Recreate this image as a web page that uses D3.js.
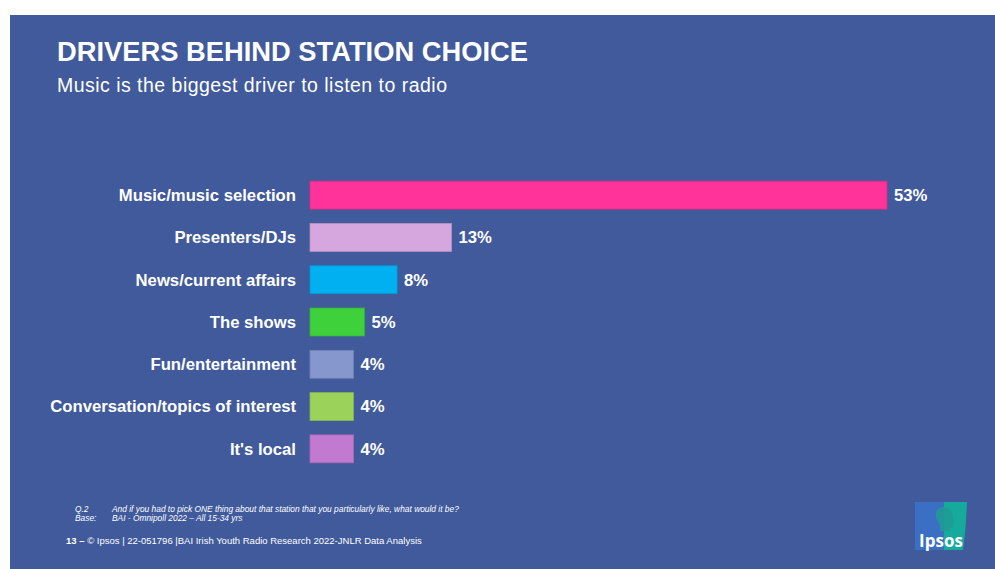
<!DOCTYPE html>
<html>
<head>
<meta charset="utf-8">
<script src="https://cdn.jsdelivr.net/npm/d3@7"></script>
<style>
  html, body { margin: 0; padding: 0; background: #ffffff; }
  svg { display: block; font-family: "Liberation Sans", Arial, sans-serif; }
</style>
</head>
<body>
<svg id="chart" width="995" height="569"></svg>
<script>
// Station-choice drivers (% of 15-34s)
const categories = [
  "Music/music selection",
  "Presenters/DJs",
  "News/current affairs",
  "The shows",
  "Fun/entertainment",
  "Conversation/topics of interest",
  "It's local"
];
const values = [53, 13, 8, 5, 4, 4, 4];
const barColors = ["#ff3399", "#d6a6de", "#00b0f0", "#3fd13c", "#8597cd", "#9bd25a", "#c27ad1"];

const svg = d3.select("#chart");

// slide background
svg.append("rect")
  .attr("x", 10).attr("y", 15)
  .attr("width", 985).attr("height", 554)
  .attr("fill", "#405a9b");

// heading
svg.append("text")
  .attr("x", 57).attr("y", 61)
  .attr("fill", "#ffffff")
  .attr("font-size", 27.5)
  .attr("font-weight", "bold")
  .attr("textLength", 471)
  .attr("lengthAdjust", "spacingAndGlyphs")
  .text("DRIVERS BEHIND STATION CHOICE");

svg.append("text")
  .attr("x", 57).attr("y", 92)
  .attr("fill", "#ffffff")
  .attr("font-size", 19.5)
  .attr("textLength", 390)
  .attr("lengthAdjust", "spacing")
  .text("Music is the biggest driver to listen to radio");

// bars
const x = d3.scaleLinear().domain([0, 53]).range([310, 887]);
const y = d3.scaleBand().domain(categories).range([174, 470]).paddingInner(0.34).paddingOuter(0.17);

const rows = svg.append("g").selectAll("g")
  .data(categories.map((c, i) => ({ c, v: values[i], col: barColors[i] })))
  .join("g");

rows.append("rect")
  .attr("x", x(0))
  .attr("y", d => y(d.c))
  .attr("width", d => x(d.v) - x(0))
  .attr("height", y.bandwidth())
  .attr("fill", d => d.col)
  .attr("stroke", d => d3.color(d.col).darker(0.4))
  .attr("stroke-width", 0.8);

rows.append("text")
  .attr("x", 296)
  .attr("y", d => y(d.c) + y.bandwidth() / 2)
  .attr("dy", "0.35em")
  .attr("text-anchor", "end")
  .attr("fill", "#ffffff")
  .attr("font-size", 16.7)
  .attr("font-weight", "bold")
  .text(d => d.c);

rows.append("text")
  .attr("x", d => x(d.v) + 7)
  .attr("y", d => y(d.c) + y.bandwidth() / 2)
  .attr("dy", "0.35em")
  .attr("fill", "#ffffff")
  .attr("font-size", 16.7)
  .attr("font-weight", "bold")
  .text(d => d.v + "%");

// question / base notes
const notes = svg.append("g")
  .attr("fill", "#ffffff")
  .attr("font-size", 8.4)
  .attr("font-style", "italic");
notes.append("text").attr("x", 75).attr("y", 512).text("Q.2");
notes.append("text").attr("x", 112).attr("y", 512)
  .text("And if you had to pick ONE thing about that station that you particularly like, what would it be?");
notes.append("text").attr("x", 75).attr("y", 521).text("Base:");
notes.append("text").attr("x", 112).attr("y", 521).text("BAI - Omnipoll 2022 \u2013 All 15-34 yrs");

// footer
const foot = svg.append("text")
  .attr("x", 66).attr("y", 544)
  .attr("fill", "#ffffff")
  .attr("font-size", 9.5);
foot.append("tspan").attr("font-weight", "bold").text("13 \u2013 ");
foot.append("tspan").text(" \u00a9 Ipsos | 22-051796 |BAI Irish Youth Radio Research 2022-JNLR Data Analysis");

// Ipsos logo
const logo = svg.append("g");
logo.append("path")
  .attr("d", "M915,502 L944,502 L944,550 L915,550 Z")
  .attr("fill", "#3a6fc4");
logo.append("path")
  .attr("d", "M944,502 L967,502 Q966,528 963,550 L944,550 Z")
  .attr("fill", "#16aa9d");
// head silhouette
logo.append("path")
  .attr("d", "M944,507 C936,507 934,515 937,520 C938,523 940,524 940,527 L940,531 L950,531 L950,528 C952,528 954,527 953,524 L955,522 L953,520 C954,515 951,507 944,507 Z")
  .attr("fill", "#1d9c93")
  .attr("opacity", 0.85);
logo.append("text")
  .attr("x", 941).attr("y", 547)
  .attr("text-anchor", "middle")
  .attr("fill", "#ffffff")
  .attr("font-size", 17)
  .attr("font-weight", "bold")
  .attr("font-family", "'Open Sans', sans-serif")
  .text("Ipsos");
</script>
</body>
</html>
